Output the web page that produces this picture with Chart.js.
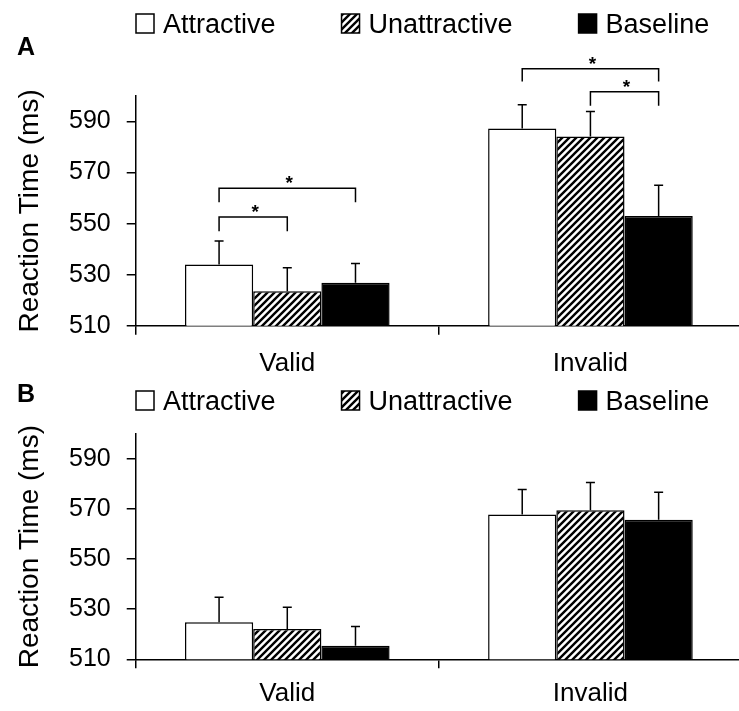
<!DOCTYPE html>
<html><head><meta charset="utf-8">
<script src="https://cdn.jsdelivr.net/npm/chart.js@4.4.0/dist/chart.umd.min.js"></script>
<style>
html,body{margin:0;padding:0;background:#fff;overflow:hidden;width:739px;height:711px;}
#wrap{position:relative;width:739px;height:711px;overflow:hidden;background:#fff;}
canvas{position:absolute;left:0;}
</style></head><body>
<div id="wrap">
<canvas id="cA" width="744" height="392" style="top:0px"></canvas>
<canvas id="cB" width="744" height="343" style="top:378px"></canvas>
</div>
<script>
// ---- data ----
const categories = ['Valid', 'Invalid'];
const seriesNames = ['Attractive', 'Unattractive', 'Baseline'];
const yTicks = [510, 530, 550, 570, 590];
const yMin = 510, yMax = 600;
const yTitle = 'Reaction Time (ms)';

const panelA_attractive    = [534.0, 587.3];
const panelA_unattractive  = [523.5, 584.1];
const panelA_baseline      = [526.9, 553.0];
const panelA_attractiveErr   = [9.2, 9.3];
const panelA_unattractiveErr = [9.2, 9.8];
const panelA_baselineErr     = [7.5, 12.0];

const panelB_attractive    = [524.8, 567.8];
const panelB_unattractive  = [522.1, 569.5];
const panelB_baseline      = [515.4, 565.7];
const panelB_attractiveErr   = [10.0, 10.0];
const panelB_unattractiveErr = [8.7, 11.1];
const panelB_baselineErr     = [7.7, 11.0];

// significance brackets: [category, from series, to series, bracket level (ms), leg end (ms)]
const panelA_brackets = [
  [0, 0, 2, 563.9, 558.4],
  [0, 0, 1, 552.6, 547.0],
  [1, 0, 2, 610.7, 605.7],
  [1, 1, 2, 601.7, 596.2]
];
const panelB_brackets = [];

// ---- styles ----
const FONT = "'Liberation Sans', Arial, Helvetica, sans-serif";
Chart.defaults.font.family = FONT;
Chart.defaults.color = '#000';

function makeHatch() {
  const s = 7;
  const c = document.createElement('canvas');
  c.width = s; c.height = s;
  const g = c.getContext('2d');
  g.fillStyle = '#fff'; g.fillRect(0, 0, s, s);
  g.strokeStyle = '#000'; g.lineWidth = 2.4;
  g.beginPath();
  g.moveTo(0, s); g.lineTo(s, 0);
  g.moveTo(-1, 1); g.lineTo(1, -1);
  g.moveTo(s - 1, s + 1); g.lineTo(s + 1, s - 1);
  g.stroke();
  return g.createPattern(c, 'repeat');
}
const hatch = makeHatch();
const fills = ['#ffffff', hatch, '#000000'];

const overlay = {
  id: 'overlay',
  afterDraw(chart, args, opts) {
    const ctx = chart.ctx;
    const ys = chart.scales.y;
    ctx.save();
    ctx.strokeStyle = '#000';
    ctx.lineWidth = 1.5;
    // error bars
    chart.data.datasets.forEach((ds, di) => {
      const meta = chart.getDatasetMeta(di);
      meta.data.forEach((bar, i) => {
        const x = bar.x;
        const y0 = ys.getPixelForValue(ds.data[i]);
        const y1 = ys.getPixelForValue(ds.data[i] + ds.errors[i]);
        ctx.beginPath();
        ctx.moveTo(x, y0); ctx.lineTo(x, y1);
        ctx.moveTo(x - 4.5, y1); ctx.lineTo(x + 4.5, y1);
        ctx.stroke();
      });
    });
    // brackets
    (opts.brackets || []).forEach(b => {
      const [cat, a, c, level, leg] = b;
      const xa = chart.getDatasetMeta(a).data[cat].x;
      const xc = chart.getDatasetMeta(c).data[cat].x;
      const yl = ys.getPixelForValue(level);
      const yg = ys.getPixelForValue(leg);
      ctx.beginPath();
      ctx.moveTo(xa, yg); ctx.lineTo(xa, yl); ctx.lineTo(xc, yl); ctx.lineTo(xc, yg);
      ctx.stroke();
      ctx.fillStyle = '#000';
      ctx.font = 'bold 19px ' + FONT;
      ctx.textAlign = 'center';
      ctx.textBaseline = 'alphabetic';
      ctx.fillText('*', (xa + xc) / 2 + 2, yl + 1);
    });
    // legend
    ctx.font = '27px ' + FONT;
    ctx.textAlign = 'left';
    ctx.textBaseline = 'alphabetic';
    let x = opts.legendX;
    const cy = opts.legendY;
    chart.data.datasets.forEach((ds, di) => {
      ctx.fillStyle = ds.backgroundColor;
      ctx.fillRect(x, cy - 9.5, 18, 19);
      ctx.lineWidth = 1.5;
      ctx.strokeStyle = '#000';
      ctx.strokeRect(x, cy - 9.5, 18, 19);
      ctx.fillStyle = '#000';
      ctx.fillText(ds.label, x + 27, cy + 9.7);
      x += 27 + ctx.measureText(ds.label).width + 66;
    });
    // panel letter
    ctx.font = 'bold 25px ' + FONT;
    ctx.fillText(opts.letter, 17, opts.letterY);
    ctx.restore();
  }
};

function makePanel(id, vals, errs, brackets, cfg) {
  const datasets = seriesNames.map((name, i) => ({
    label: name,
    data: vals[i],
    errors: errs[i],
    backgroundColor: fills[i],
    borderColor: '#000',
    borderWidth: 1.5,
    categoryPercentage: 0.675,
    barPercentage: 1.0
  }));
  return new Chart(document.getElementById(id), {
    type: 'bar',
    data: { labels: categories, datasets },
    options: {
      responsive: false,
      animation: false,
      devicePixelRatio: 1,
      layout: { padding: { top: cfg.padTop, bottom: cfg.padBottom, left: 0, right: 2 } },
      plugins: {
        legend: { display: false },
        tooltip: { enabled: false },
        overlay: { brackets, legendX: 136, legendY: cfg.legendY, letter: cfg.letter, letterY: cfg.letterY }
      },
      scales: {
        x: {
          grid: { display: true, drawOnChartArea: false, drawTicks: true, tickLength: 9, color: '#000', lineWidth: 1.5, offset: true },
          border: { display: true, color: '#000', width: 1.5 },
          ticks: { font: { size: 26 }, color: '#000', padding: cfg.xPad }
        },
        y: {
          min: yMin, max: yMax,
          afterBuildTicks: s => { s.ticks = yTicks.map(v => ({ value: v })); },
          grid: { display: true, drawOnChartArea: false, drawTicks: true, tickLength: 9, color: '#000', lineWidth: 1.5 },
          border: { display: true, color: '#000', width: 1.5 },
          ticks: { font: { size: 25 }, color: '#000', padding: 16 },
          title: { display: true, text: yTitle, font: { size: 28 }, color: '#000', padding: { top: 13, bottom: 6.4 } }
        }
      }
    },
    plugins: [overlay]
  });
}

makePanel('cA',
  [panelA_attractive, panelA_unattractive, panelA_baseline],
  [panelA_attractiveErr, panelA_unattractiveErr, panelA_baselineErr],
  panelA_brackets,
  { padTop: 96, padBottom: 0, xPad: 13, legendY: 23.5, letter: 'A', letterY: 55 });

makePanel('cB',
  [panelB_attractive, panelB_unattractive, panelB_baseline],
  [panelB_attractiveErr, panelB_unattractiveErr, panelB_baselineErr],
  panelB_brackets,
  { padTop: 56, padBottom: 1.5, xPad: 10, legendY: 22.5, letter: 'B', letterY: 24 });
</script>
</body></html>
